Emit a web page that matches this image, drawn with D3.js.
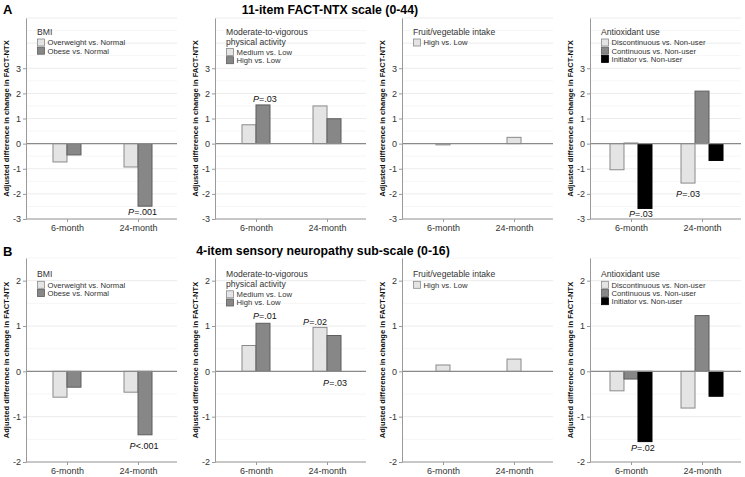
<!DOCTYPE html>
<html><head><meta charset="utf-8">
<script src="https://cdn.jsdelivr.net/npm/d3@7"></script>
<style>
body{margin:0;background:#fff}
svg{display:block}
text{font-family:"Liberation Sans",Arial,Helvetica,sans-serif}
</style>
</head><body>
<svg id="c" width="745" height="477"></svg>
<script>
// ---------------- data ----------------
const timepoints = ["6-month", "24-month"];
const rowTitles = ["11-item FACT-NTX scale (0-44)", "4-item sensory neuropathy sub-scale (0-16)"];
const rowLetters = ["A", "B"];
const yAxisTitle = "Adjusted difference in change in FACT-NTX";
const yTicksA = [-3, -2, -1, 0, 1, 2, 3];
const yTicksB = [-2, -1, 0, 1, 2];
const yDomainA = [-3, 5];
const yDomainB = [-2, 2.5];

const bmiTitle = ["BMI"];
const bmiSeries = ["Overweight vs. Normal", "Obese vs. Normal"];
const mvpaTitle = ["Moderate-to-vigorous", "physical activity"];
const mvpaSeries = ["Medium vs. Low", "High vs. Low"];
const fvTitle = ["Fruit/vegetable intake"];
const fvSeries = ["High vs. Low"];
const aoxTitle = ["Antioxidant use"];
const aoxSeries = ["Discontinuous vs. Non-user", "Continuous vs. Non-user", "Initiator vs. Non-user"];

// values: [series][timepoint]
const bmiA  = [[-0.73, -0.93], [-0.45, -2.49]];
const mvpaA = [[0.75, 1.50], [1.54, 0.99]];
const fvA   = [[-0.05, 0.25]];
const aoxA  = [[-1.04, -1.57], [0.02, 2.09], [-2.58, -0.67]];
const bmiB  = [[-0.57, -0.46], [-0.35, -1.40]];
const mvpaB = [[0.57, 0.97], [1.06, 0.79]];
const fvB   = [[0.14, 0.27]];
const aoxB  = [[-0.43, -0.81], [-0.17, 1.23], [-1.55, -0.55]];

// P-value annotations: row, panel, timepoint, series, operator, value, anchor (y value)
const pLabels = [
  {row: 0, panel: 0, time: "24-month", series: 1, op: "=", p: ".001", anchor: -2.49},
  {row: 0, panel: 1, time: "6-month",  series: 1, op: "=", p: ".03",  anchor: 1.54},
  {row: 0, panel: 3, time: "6-month",  series: 2, op: "=", p: ".03",  anchor: -2.58},
  {row: 0, panel: 3, time: "24-month", series: 0, op: "=", p: ".03",  anchor: -1.57},
  {row: 1, panel: 0, time: "24-month", series: 1, op: "<", p: ".001", anchor: -1.40},
  {row: 1, panel: 1, time: "6-month",  series: 1, op: "=", p: ".01",  anchor: 1.06},
  {row: 1, panel: 1, time: "24-month", series: 0, op: "=", p: ".02",  anchor: 0.97},
  {row: 1, panel: 1, time: "24-month", series: 1, op: "=", p: ".03",  anchor: 0},
  {row: 1, panel: 3, time: "6-month",  series: 2, op: "=", p: ".02",  anchor: -1.55}
];

// ---------------- layout / style ----------------
const pLabelNudge = [[-2.5, 6], [2, -6], [-4, 5.5], [0, 10.5], [-1, 10.7], [2, -7], [-5, -6], [1, 11], [-2, 6.5]];
const fills = {light: "#e4e4e4", mid: "#878787", black: "#000000"};
const strokes = {light: "#8a8a8a", mid: "#5e5e5e", black: "#000000"};
const colX = [26, 215, 402, 590];
const W = 151;
const rowTop = [18, 258];
const rowBottom = [219, 462];
const legendTop = [32, 274.3];
const barW = 14;

const rows = [
  {ticks: yTicksA, domain: yDomainA, panels: [
    {title: bmiTitle, series: bmiSeries, colors: ["light", "mid"], values: bmiA},
    {title: mvpaTitle, series: mvpaSeries, colors: ["light", "mid"], values: mvpaA},
    {title: fvTitle, series: fvSeries, colors: ["light"], values: fvA},
    {title: aoxTitle, series: aoxSeries, colors: ["light", "mid", "black"], values: aoxA}
  ]},
  {ticks: yTicksB, domain: yDomainB, panels: [
    {title: bmiTitle, series: bmiSeries, colors: ["light", "mid"], values: bmiB},
    {title: mvpaTitle, series: mvpaSeries, colors: ["light", "mid"], values: mvpaB},
    {title: fvTitle, series: fvSeries, colors: ["light"], values: fvB},
    {title: aoxTitle, series: aoxSeries, colors: ["light", "mid", "black"], values: aoxB}
  ]}
];

const svg = d3.select("#c");
const x = d3.scalePoint().domain(timepoints).range([0, 153]).padding(0.577);

// row letters and titles
svg.selectAll("text.letter").data(rowLetters).join("text")
  .attr("class", "letter")
  .attr("x", 3).attr("y", (d, i) => [14, 256][i])
  .attr("font-size", 13).attr("font-weight", "bold").attr("fill", "#000")
  .text(d => d);
svg.selectAll("text.rtitle").data(rowTitles).join("text")
  .attr("class", "rtitle")
  .attr("x", (d, i) => [330, 323][i]).attr("y", (d, i) => [14, 255][i])
  .attr("text-anchor", "middle")
  .attr("font-size", 12.3).attr("font-weight", "bold").attr("fill", "#000")
  .text(d => d);

const scales = [];
rows.forEach((row, ri) => {
  const y = d3.scaleLinear().domain(row.domain).range([rowBottom[ri], rowTop[ri]]);
  scales.push(y);
  row.panels.forEach((p, pi) => {
    const g = svg.append("g").attr("transform", `translate(${colX[pi]},0)`);
    // gridlines
    const grid = d3.range(row.domain[0], row.domain[1] + 0.001, 0.5);
    g.selectAll("line.grid").data(grid).join("line")
      .attr("x1", 0).attr("x2", W)
      .attr("y1", d => y(d)).attr("y2", d => y(d))
      .attr("stroke", d => Number.isInteger(d) ? "#ececec" : "#f6f6f6")
      .attr("stroke-width", 1);
    // bars
    const inner = d3.scaleBand().domain(d3.range(p.series.length))
      .range([-p.series.length * barW / 2, p.series.length * barW / 2]);
    const bars = [];
    p.values.forEach((vals, si) => vals.forEach((v, ti) => bars.push({si, t: timepoints[ti], v})));
    g.selectAll("rect.bar").data(bars).join("rect")
      .attr("x", d => x(d.t) + inner(d.si))
      .attr("width", inner.bandwidth())
      .attr("y", d => Math.min(y(d.v), y(0)))
      .attr("height", d => Math.abs(y(d.v) - y(0)))
      .attr("fill", d => fills[p.colors[d.si]])
      .attr("stroke", d => strokes[p.colors[d.si]])
      .attr("stroke-width", 1);
    // zero line
    g.append("line").attr("x1", 0).attr("x2", W)
      .attr("y1", y(0)).attr("y2", y(0))
      .attr("stroke", "#8a8a8a").attr("stroke-width", 1.4);
    // y axis
    const ya = g.append("g").call(d3.axisLeft(y).tickValues(row.ticks).tickSize(3).tickSizeOuter(0).tickPadding(2).tickFormat(d => String(d)));
    ya.select(".domain").attr("stroke", "#9a9a9a");
    ya.selectAll(".tick line").attr("stroke", "#9a9a9a");
    ya.selectAll(".tick text").attr("font-size", 9).attr("fill", "#333").attr("font-family", null);
    // x axis
    const xa = g.append("g").attr("transform", `translate(0,${rowBottom[ri]})`)
      .call(d3.axisBottom(x).tickSize(3).tickSizeOuter(0).tickPadding(3));
    xa.select(".domain").remove();
    xa.append("line").attr("x1", 0).attr("x2", W).attr("stroke", "#9a9a9a");
    xa.selectAll(".tick line").attr("stroke", "#9a9a9a");
    xa.selectAll(".tick text").attr("font-size", 9).attr("fill", "#333").attr("font-family", null);
    // y axis title
    g.append("text")
      .attr("transform", `translate(-17,${(rowTop[ri] + rowBottom[ri]) / 2}) rotate(-90)`)
      .attr("text-anchor", "middle")
      .attr("font-size", 7.6).attr("font-weight", "bold").attr("fill", "#111")
      .text(yAxisTitle);
    // legend
    const lg = g.append("g").attr("transform", `translate(11,0)`);
    p.title.forEach((t, k) => {
      lg.append("text").attr("x", 0).attr("y", legendTop[ri] + k * 9.5 + 3)
        .attr("font-size", 8.6).attr("fill", "#333").text(t);
    });
    const firstItem = legendTop[ri] + (p.title.length - 1) * 9.5 + 10.5;
    p.series.forEach((s, k) => {
      const cy = firstItem + k * 8.2;
      lg.append("rect").attr("x", 0.5).attr("y", cy - 3.5).attr("width", 7).attr("height", 7)
        .attr("fill", fills[p.colors[k]]).attr("stroke", strokes[p.colors[k]]).attr("stroke-width", 0.8);
      lg.append("text").attr("x", 10.5).attr("y", cy + 2.8)
        .attr("font-size", 7.7).attr("fill", "#333").text(s);
    });
  });
});

// P annotations
pLabels.forEach((a, i) => {
  const p = rows[a.row].panels[a.panel];
  const n = p.series.length;
  const inner = d3.scaleBand().domain(d3.range(n)).range([-n * barW / 2, n * barW / 2]);
  const cx = colX[a.panel] + x(a.time) + inner(a.series) + inner.bandwidth() / 2 + pLabelNudge[i][0];
  const cy = scales[a.row](a.anchor) + pLabelNudge[i][1];
  const t = svg.append("text").attr("x", cx).attr("y", cy + 3.2)
    .attr("text-anchor", "middle").attr("font-size", 9).attr("fill", "#111");
  t.append("tspan").attr("font-style", "italic").text("P");
  t.append("tspan").text(a.op + a.p);
});
</script>
</body></html>
